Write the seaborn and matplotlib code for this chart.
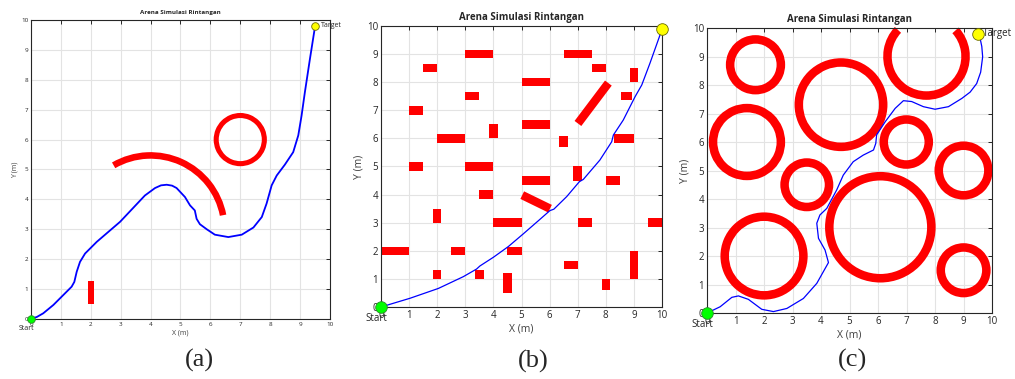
import matplotlib
import matplotlib.pyplot as plt
import seaborn as sns
from matplotlib.patches import Rectangle, Wedge

matplotlib.use("Agg")

sns.set_theme(style="white")
plt.rcParams["font.family"] = ["Open Sans", "DejaVu Sans"]

TITLE = "Arena Simulasi Rintangan"
TICKS = list(range(0, 11))

# --- panel (a): path and obstacles
path_a_x = [0.0, 0.2, 0.41, 0.75, 1.08, 1.36, 1.45, 1.53, 1.64, 1.81, 2.2, 2.98, 3.81, 4.15,
            4.35, 4.54, 4.72, 4.87, 5.15, 5.32, 5.48, 5.54, 5.65, 5.88, 6.15, 6.6, 7.05,
            7.44, 7.72, 7.88, 8.05, 8.22, 8.49, 8.77, 8.94, 9.05, 9.16, 9.33, 9.5]
path_a_y = [0.0, 0.07, 0.19, 0.47, 0.8, 1.08, 1.24, 1.58, 1.91, 2.19, 2.58, 3.25, 4.13, 4.38,
            4.47, 4.49, 4.46, 4.38, 4.08, 3.8, 3.63, 3.35, 3.17, 3.0, 2.82, 2.74, 2.82,
            3.06, 3.41, 3.86, 4.47, 4.8, 5.16, 5.58, 6.14, 6.8, 7.58, 8.7, 9.78]
rect_a_x, rect_a_y, rect_a_w, rect_a_h = [2.0], [0.9], [0.2], [0.77]
arc_a_center, arc_a_r, arc_a_span, arc_a_width = (4.0, 3.0), 2.58, (11, 120), 0.22
ring_a_center, ring_a_r, ring_a_width = (7.0, 6.0), 0.89, 0.17
start_a, target_a = (0.0, 0.0), (9.5, 9.8)

# --- panel (b): path and obstacles
path_b_x = [0.0, 1.03, 2.04, 2.93, 3.4, 3.52, 4.0, 4.53, 5.06, 5.6, 6.01, 6.15, 6.61, 7.06,
            7.2, 7.79, 8.21, 8.27, 8.62, 9.04, 9.28, 9.57, 9.93, 10.0]
path_b_y = [0.0, 0.31, 0.66, 1.08, 1.35, 1.46, 1.77, 2.15, 2.6, 3.07, 3.43, 3.48, 3.93, 4.46,
            4.54, 5.23, 5.88, 6.12, 6.65, 7.48, 7.9, 8.67, 9.68, 9.9]
rect_b_x = [0.5, 2.0, 2.0, 2.75, 1.25, 1.25, 1.75, 2.5, 3.5, 3.25, 3.5, 4.0, 3.75, 4.5, 3.5, 4.5,
            4.75, 5.5, 5.5, 5.5, 6.5, 7.0, 7.75, 7.0, 7.25, 6.75, 8.0, 8.25, 8.65, 8.75, 9.0,
            9.0, 9.75]
rect_b_y = [2.0, 1.15, 3.25, 2.0, 5.0, 7.0, 8.5, 6.0, 9.0, 7.5, 5.0, 6.25, 4.0, 3.0, 1.15, 0.85,
            2.0, 8.0, 6.5, 4.5, 5.9, 9.0, 8.5, 4.75, 3.0, 1.5, 0.8, 4.5, 6.0, 7.5, 8.25,
            1.5, 3.0]
rect_b_w = [1.0, 0.3, 0.3, 0.5, 0.5, 0.5, 0.5, 1.0, 1.0, 0.5, 1.0, 0.3, 0.5, 1.0, 0.3, 0.3,
            0.5, 1.0, 1.0, 1.0, 0.3, 1.0, 0.5, 0.3, 0.5, 0.5, 0.3, 0.5, 0.7, 0.4, 0.3,
            0.3, 0.5]
rect_b_h = [0.3, 0.3, 0.5, 0.3, 0.3, 0.3, 0.3, 0.3, 0.3, 0.3, 0.3, 0.5, 0.3, 0.3, 0.3, 0.7,
            0.3, 0.3, 0.3, 0.3, 0.4, 0.3, 0.3, 0.5, 0.3, 0.3, 0.4, 0.3, 0.3, 0.3, 0.5,
            1.0, 0.3]
bar_b_x, bar_b_y = [5.52, 7.55], [3.74, 7.25]
bar_b_len, bar_b_angle, bar_b_thick = [1.1, 1.8], [-26, 53], [0.3, 0.3]
start_b, target_b = (0.0, 0.0), (10.0, 9.9)

# --- panel (c): path and obstacles
path_c_x = [0.0, 0.46, 0.87, 1.1, 1.45, 1.92, 2.33, 2.8, 3.38, 3.85, 4.26, 4.14, 3.91, 3.85,
            3.96, 4.2, 4.55, 4.78, 5.13, 5.48, 5.84, 5.92, 5.95, 6.25, 6.6, 6.89, 7.18,
            7.59, 8.0, 8.47, 8.94, 9.23, 9.46, 9.6, 9.67, 9.64, 9.58, 9.5]
path_c_y = [0.0, 0.22, 0.55, 0.6, 0.48, 0.13, 0.05, 0.16, 0.51, 1.04, 1.77, 2.21, 2.62, 3.15,
            3.44, 3.67, 4.32, 4.84, 5.31, 5.54, 5.72, 5.95, 6.25, 6.71, 7.18, 7.45, 7.42,
            7.24, 7.15, 7.24, 7.53, 7.75, 8.05, 8.45, 8.99, 9.35, 9.64, 9.8]
ring_c_x = [1.7, 1.4, 4.7, 6.99, 3.5, 9.0, 6.08, 2.0, 9.0]
ring_c_y = [8.71, 6.0, 7.31, 6.0, 4.5, 5.0, 3.01, 2.0, 1.5]
ring_c_r = [1.04, 1.34, 1.63, 0.94, 0.93, 1.02, 1.94, 1.53, 0.95]
ring_c_width = 0.3
arc_c_center, arc_c_r, arc_c_span = (7.7, 9.0), 1.52, (137, 42)
start_c, target_c = (0.0, 0.0), (9.5, 9.8)

RED = "#ff0000"
BLUE = "#0000ff"


def style_axes(ax, fs_tick, fs_label, fs_title):
    ax.set_xlim(0, 10)
    ax.set_ylim(0, 10)
    ax.set_xticks(TICKS)
    ax.set_yticks(TICKS)
    ax.grid(True, color="#e3e3e3", linewidth=0.8)
    ax.set_axisbelow(True)
    ax.tick_params(direction="in", length=3, width=0.7, top=True, right=True,
                   labelsize=fs_tick, colors="#262626", pad=2)
    for s in ax.spines.values():
        s.set_color("#262626")
        s.set_linewidth(0.8)
    ax.set_xlabel("X (m)", fontsize=fs_label, color="#404040", labelpad=2)
    ax.set_ylabel("Y (m)", fontsize=fs_label, color="#404040", labelpad=2)
    ax.set_title(TITLE, fontsize=fs_title, fontweight="bold", pad=4)


def draw_markers(ax, start, target, size, fs, target_label=True):
    sns.scatterplot(x=[start[0]], y=[start[1]], ax=ax, s=size, color="#00ff00",
                    edgecolor="#2a8a2a", linewidth=0.6, zorder=5, clip_on=False)
    sns.scatterplot(x=[target[0]], y=[target[1]], ax=ax, s=size, color="#ffff00",
                    edgecolor="#6b6b00", linewidth=0.6, zorder=5, clip_on=False)
    ax.annotate("Start", xy=start, xytext=(-3, -4), textcoords="offset points",
                ha="center", va="top", fontsize=fs, color="#262626", annotation_clip=False)
    if target_label:
        ax.annotate("Target", xy=target, xytext=(4, 0), textcoords="offset points",
                    ha="left", va="center", fontsize=fs, color="#262626",
                    annotation_clip=False)


fig = plt.figure(figsize=(10.15, 3.79), dpi=100)
ax_a = fig.add_axes([0.0305, 0.1583, 0.2946, 0.789])
ax_b = fig.add_axes([0.3754, 0.19, 0.2768, 0.7414])
ax_c = fig.add_axes([0.6966, 0.1741, 0.2808, 0.752])

# (a)
for x, y, w, h in zip(rect_a_x, rect_a_y, rect_a_w, rect_a_h):
    ax_a.add_patch(Rectangle((x - w / 2, y - h / 2), w, h, color=RED, lw=0))
ax_a.add_patch(Wedge(arc_a_center, arc_a_r, arc_a_span[0], arc_a_span[1],
                     width=arc_a_width, color=RED, lw=0))
ax_a.add_patch(Wedge(ring_a_center, ring_a_r, 0, 360, width=ring_a_width, color=RED, lw=0))
sns.lineplot(x=path_a_x, y=path_a_y, sort=False, estimator=None, ax=ax_a,
             color=BLUE, linewidth=1.3)
style_axes(ax_a, 4.5, 5, 4.5)
draw_markers(ax_a, start_a, target_a, 30, 5)

# (b)
for x, y, w, h in zip(rect_b_x, rect_b_y, rect_b_w, rect_b_h):
    ax_b.add_patch(Rectangle((x - w / 2, y - h / 2), w, h, color=RED, lw=0))
for x, y, L, ang, t in zip(bar_b_x, bar_b_y, bar_b_len, bar_b_angle, bar_b_thick):
    r = Rectangle((x - L / 2, y - t / 2), L, t, color=RED, lw=0)
    r.set_transform(matplotlib.transforms.Affine2D().rotate_deg_around(x, y, ang)
                    + ax_b.transData)
    ax_b.add_patch(r)
sns.lineplot(x=path_b_x, y=path_b_y, sort=False, estimator=None, ax=ax_b,
             color=BLUE, linewidth=0.9)
style_axes(ax_b, 7, 7.5, 7)
draw_markers(ax_b, start_b, target_b, 70, 7, target_label=False)

# (c)
for x, y, r in zip(ring_c_x, ring_c_y, ring_c_r):
    ax_c.add_patch(Wedge((x, y), r, 0, 360, width=ring_c_width, color=RED, lw=0))
ax_c.add_patch(Wedge(arc_c_center, arc_c_r, arc_c_span[0], arc_c_span[1],
                     width=ring_c_width, color=RED, lw=0, clip_on=False))
sns.lineplot(x=path_c_x, y=path_c_y, sort=False, estimator=None, ax=ax_c,
             color=BLUE, linewidth=0.9)
style_axes(ax_c, 7, 7.5, 7)
draw_markers(ax_c, start_c, target_c, 70, 7)

for xc, yc, lab in [(0.196, 0.05, "(a)"), (0.525, 0.045, "(b)"), (0.84, 0.05, "(c)")]:
    fig.text(xc, yc, lab, ha="center", va="center", fontsize=19,
             family="Liberation Serif")

fig.savefig("out.png", dpi=100)
plt.close(fig)
